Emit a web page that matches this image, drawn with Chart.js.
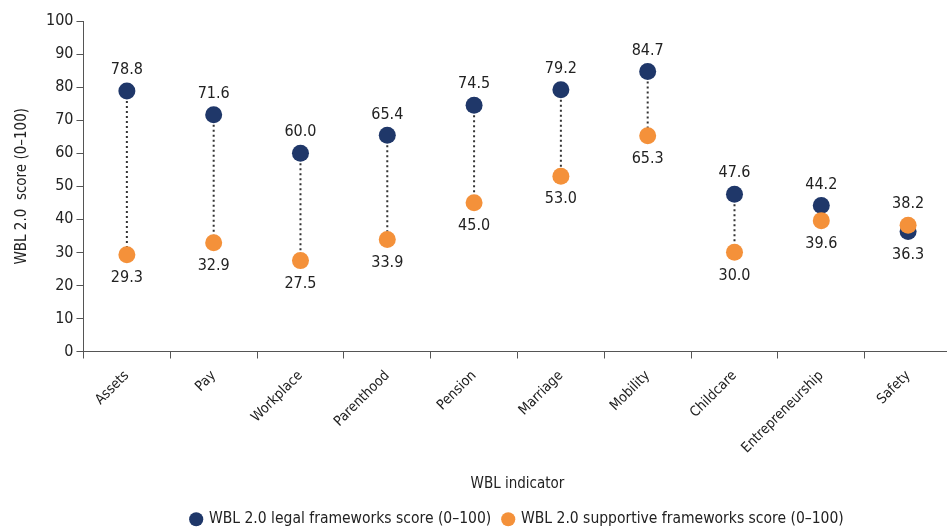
<!DOCTYPE html>
<html>
<head>
<meta charset="utf-8">
<script src="https://cdn.jsdelivr.net/npm/chart.js@4.4.0/dist/chart.umd.min.js"></script>
<style>
  html, body { margin: 0; padding: 0; background: #fff; overflow: hidden; }
  #wrap { width: 960px; height: 530px; position: relative; }
</style>
</head>
<body>
<div id="wrap"><canvas id="dumbbell"></canvas></div>
<script>
// data
var indicators = ['Assets', 'Pay', 'Workplace', 'Parenthood', 'Pension', 'Marriage', 'Mobility', 'Childcare', 'Entrepreneurship', 'Safety'];
var legalScores = [78.8, 71.6, 60.0, 65.4, 74.5, 79.2, 84.7, 47.6, 44.2, 36.3];
var supportiveScores = [29.3, 32.9, 27.5, 33.9, 45.0, 53.0, 65.3, 30.0, 39.6, 38.2];
var yTicks = [0, 10, 20, 30, 40, 50, 60, 70, 80, 90, 100];

var NAVY = '#1f3769';
var ORANGE = '#f4913a';
var FONT = "'Liberation Sans Narrow', 'DejaVu Sans Condensed', 'Liberation Sans', sans-serif";

Chart.defaults.font.family = FONT;
Chart.defaults.color = '#222';

// dotted connector between the two dots of each indicator
var connectors = {
    id: 'connectors',
    beforeDatasetsDraw: function (chart) {
        var ctx = chart.ctx;
        var y = chart.scales.y;
        var x = chart.scales.x;
        ctx.save();
        ctx.strokeStyle = '#333';
        ctx.lineWidth = 2;
        ctx.setLineDash([2, 3]);
        for (var i = 0; i < indicators.length; i++) {
            var px = x.getPixelForValue(i);
            ctx.beginPath();
            ctx.moveTo(px, y.getPixelForValue(legalScores[i]));
            ctx.lineTo(px, y.getPixelForValue(supportiveScores[i]));
            ctx.stroke();
        }
        ctx.restore();
    }
};

// value labels: higher value above, lower below
var valueLabels = {
    id: 'valueLabels',
    afterDatasetsDraw: function (chart) {
        var ctx = chart.ctx;
        ctx.save();
        ctx.font = '16px ' + FONT;
        ctx.fillStyle = '#222';
        ctx.textAlign = 'center';
        ctx.textBaseline = 'middle';
        chart.data.datasets.forEach(function (ds, di) {
            var meta = chart.getDatasetMeta(di);
            var other = chart.data.datasets[1 - di].data;
            meta.data.forEach(function (pt, i) {
                var up = ds.data[i] >= other[i];
                ctx.fillText(ds.data[i].toFixed(1), pt.x, up ? pt.y - 21 : pt.y + 23);
            });
        });
        ctx.restore();
    }
};

var ctx = document.getElementById('dumbbell').getContext('2d');
var chart = new Chart(ctx, {
    type: 'line',
    data: {
        labels: indicators,
        datasets: [{
            label: 'WBL 2.0 legal frameworks score (0\u2013100)',
            data: legalScores,
            showLine: false,
            backgroundColor: NAVY,
            borderColor: NAVY,
            pointRadius: 8.5,
            pointBorderWidth: 0,
            pointHoverRadius: 8.5,
            order: 1
        }, {
            label: 'WBL 2.0 supportive frameworks score (0\u2013100)',
            data: supportiveScores,
            showLine: false,
            backgroundColor: ORANGE,
            borderColor: ORANGE,
            pointRadius: 8.5,
            pointBorderWidth: 0,
            pointHoverRadius: 8.5,
            order: 0
        }]
    },
    options: {
        responsive: true,
        maintainAspectRatio: false,
        animation: false,
        layout: { padding: { top: 21, right: 5, left: 13, bottom: -7 } },
        scales: {
            x: {
                offset: true,
                grid: { offset: true, drawOnChartArea: false, drawTicks: true, tickLength: 7, color: '#555' },
                border: { color: '#555', width: 1 },
                ticks: { minRotation: 45, maxRotation: 45, font: { size: 14 }, color: '#222', padding: 9 },
                title: { display: true, text: 'WBL indicator', font: { size: 15 }, color: '#222', padding: { top: 10, bottom: 6 } }
            },
            y: {
                min: 0,
                max: 100,
                afterBuildTicks: function (axis) {
                    axis.ticks = yTicks.map(function (v) { return { value: v }; });
                },
                grid: { drawOnChartArea: false, drawTicks: true, tickLength: 7, color: '#555' },
                border: { color: '#555', width: 1 },
                ticks: { font: { size: 16 }, color: '#222', padding: 3 },
                title: { display: true, text: 'WBL 2.0  score (0\u2013100)', font: { size: 15 }, color: '#222', padding: { top: 0, bottom: 12 } }
            }
        },
        plugins: {
            legend: {
                position: 'bottom',
                fullSize: false,
                labels: {
                    usePointStyle: true,
                    pointStyle: 'circle',
                    boxWidth: 10,
                    boxHeight: 10,
                    padding: 12,
                    font: { size: 15.5 },
                    color: '#222',
                    sort: function (a, b) { return a.datasetIndex - b.datasetIndex; }
                }
            },
            tooltip: { enabled: false }
        }
    },
    plugins: [connectors, valueLabels]
});
</script>
</body>
</html>
